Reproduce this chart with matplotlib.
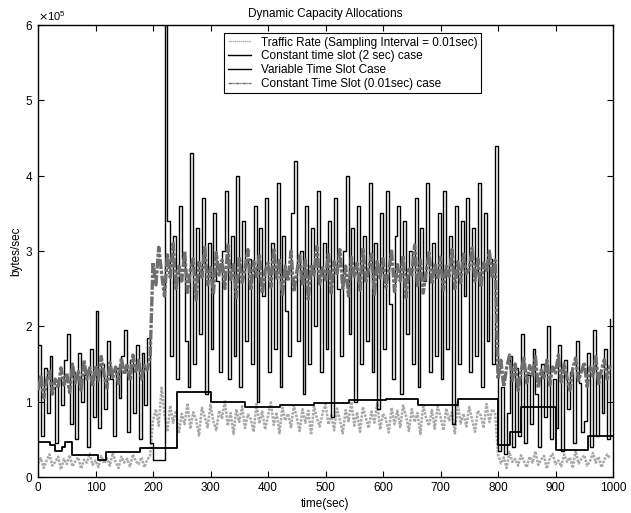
import numpy as np
import matplotlib
matplotlib.use("Agg")
import matplotlib.pyplot as plt
from matplotlib.ticker import ScalarFormatter

plt.rcParams['font.family'] = ['Liberation Sans', 'DejaVu Sans']

# sample times (sec), 5-second grid
time_sec = np.arange(0, 1000, 5)

# Traffic rate (x1e5 bytes/sec)
traffic = [
    0.18,0.25,0.12,0.22,0.30,0.15,0.20,0.27,0.10,0.24,0.17,0.29,0.14,0.21,0.26,0.11,0.23,0.19,0.31,0.16,
    0.22,0.13,0.28,0.18,0.25,0.15,0.32,0.20,0.12,0.27,0.19,0.24,0.14,0.30,0.21,0.17,0.26,0.13,0.23,0.28,
    0.75,0.90,0.68,1.20,0.82,0.60,0.95,0.72,0.88,0.58,0.84,0.70,0.98,0.64,0.86,0.76,0.55,0.92,0.80,0.66,
    0.96,0.74,0.62,0.88,0.78,1.02,0.68,0.85,0.57,0.90,0.73,0.94,0.65,0.83,0.77,0.60,0.97,0.71,0.87,0.63,
    0.81,0.99,0.69,0.86,0.58,0.92,0.75,0.84,0.66,0.95,0.79,0.61,0.90,0.72,0.88,0.56,0.94,0.78,0.67,0.85,
    0.97,0.70,0.82,0.62,0.91,0.76,0.58,0.89,0.74,1.00,0.68,0.86,0.60,0.93,0.79,0.65,0.87,0.72,0.98,0.63,
    0.84,0.77,0.59,0.92,0.70,0.88,0.66,0.95,0.81,0.61,0.90,0.73,0.85,0.57,0.96,0.78,0.68,0.89,0.64,0.94,
    0.80,0.62,0.91,0.75,0.86,0.58,0.99,0.71,0.84,0.67,0.93,0.76,0.60,0.88,0.82,0.65,0.97,0.73,0.90,0.85,
    0.30,0.18,0.26,0.12,0.33,0.20,0.24,0.15,0.29,0.21,0.13,0.27,0.19,0.34,0.16,0.23,0.28,0.11,0.25,0.31,
    0.17,0.22,0.14,0.30,0.20,0.26,0.12,0.35,0.18,0.24,0.29,0.15,0.21,0.32,0.19,0.27,0.13,0.23,0.30,0.25,
]

# Constant time slot (2 sec) case (x1e5 bytes/sec)
const_2s = [
    1.75,0.55,1.45,0.85,1.60,1.20,0.45,1.30,0.95,1.55,1.90,0.70,1.40,0.50,1.65,1.00,1.35,0.40,1.70,0.80,
    2.20,0.65,1.50,0.90,1.80,1.30,0.55,1.45,1.05,1.60,1.95,0.60,1.55,0.85,1.75,0.50,1.65,0.95,1.85,0.45,
    0.22,0.22,0.22,0.22,6.50,3.40,1.60,3.20,1.30,3.60,2.90,1.80,1.20,4.30,1.50,3.30,1.90,3.70,1.10,3.10,
    1.70,3.50,2.60,1.40,3.00,3.80,1.30,3.20,1.60,4.00,1.20,3.40,1.80,2.90,1.50,3.60,1.00,3.30,2.40,3.70,
    1.40,3.10,1.70,3.90,1.20,3.20,2.20,1.60,3.50,4.20,1.80,3.00,1.10,3.60,1.50,3.30,2.00,3.80,1.40,3.10,
    1.70,3.40,0.80,3.70,2.50,1.60,3.00,4.00,1.90,3.30,1.00,3.60,1.50,3.20,1.80,3.90,1.40,3.10,0.90,3.50,
    1.70,3.80,2.30,1.30,3.20,3.60,1.10,3.40,1.90,3.00,1.50,3.70,1.20,3.30,2.60,3.90,1.40,3.10,1.60,3.50,
    1.30,3.80,1.70,3.20,0.70,3.60,1.50,3.40,2.40,3.70,1.40,3.30,1.60,3.90,1.20,3.50,1.80,2.90,1.50,4.40,
    0.35,1.20,0.30,0.85,1.60,0.40,1.45,0.55,1.90,0.45,1.35,0.70,1.70,1.10,0.40,1.50,0.80,2.00,0.50,1.30,
    0.65,1.75,0.35,1.55,0.90,1.40,0.45,1.80,1.25,0.60,0.75,1.65,0.40,1.95,0.55,1.35,0.85,1.70,0.50,2.10,
]

# Variable time slot case: slot start times (sec) and allocations (x1e5 bytes/sec)
var_slot_t = [0, 20, 30, 41, 47, 59, 104, 119, 177, 200, 241, 300, 360, 420, 480, 540, 605, 661, 730, 800, 820, 840, 900, 957, 1000]
var_slot_v = [0.47, 0.42, 0.34, 0.40, 0.47, 0.29, 0.23, 0.33, 0.38, 0.38, 1.13, 1.00, 0.93, 0.96, 0.98, 1.02, 1.04, 0.96, 1.04, 0.42, 0.60, 0.93, 0.36, 0.55, 0.55]

# Constant time slot (0.01 sec) case (x1e5 bytes/sec)
const_001 = [
    1.15,1.35,1.05,1.28,1.42,1.10,1.30,1.18,1.45,1.22,1.38,1.12,1.50,1.25,1.40,1.15,1.55,1.30,1.45,1.20,
    1.48,1.28,1.60,1.35,1.18,1.52,1.32,1.46,1.24,1.58,1.36,1.50,1.28,1.62,1.40,1.55,1.30,1.48,1.42,1.58,
    2.85,2.55,3.05,2.70,2.40,2.95,2.65,3.10,2.50,2.80,2.60,3.00,2.45,2.75,2.90,2.35,2.85,2.65,3.05,2.55,
    2.78,2.42,2.98,2.68,2.88,2.50,3.08,2.62,2.82,2.38,2.92,2.58,2.76,3.02,2.48,2.86,2.66,2.96,2.44,2.74,
    2.84,2.52,3.04,2.64,2.90,2.40,2.80,2.60,3.00,2.46,2.72,2.94,2.54,2.88,2.36,2.82,2.68,3.06,2.56,2.78,
    2.62,2.98,2.44,2.86,2.70,3.02,2.50,2.80,2.40,2.92,2.66,2.84,2.48,3.04,2.58,2.76,2.96,2.42,2.86,2.64,
    2.90,2.52,2.74,3.00,2.46,2.82,2.60,2.94,2.38,2.78,2.68,3.08,2.54,2.88,2.44,2.72,2.98,2.56,2.84,2.62,
    2.92,2.48,2.80,2.66,3.02,2.50,2.86,2.58,2.96,2.70,2.76,3.04,2.60,2.90,2.52,2.84,2.74,3.00,2.64,2.88,
    1.30,1.55,1.20,1.45,1.62,1.28,1.50,1.15,1.40,1.58,1.25,1.48,1.35,1.60,1.18,1.42,1.30,1.55,1.22,1.46,
    1.38,1.62,1.26,1.50,1.32,1.15,1.44,1.58,1.28,1.40,1.52,1.20,1.46,1.34,1.60,1.24,1.42,1.56,1.30,1.48,
]

labels = ["Traffic Rate (Sampling Interval = 0.01sec)",
          "Constant time slot (2 sec) case",
          "Variable Time Slot Case",
          "Constant Time Slot (0.01sec) case"]

scale = 1e5
fig = plt.figure(figsize=(6.31, 5.13), dpi=100)
ax = fig.add_axes([38/631, 36/513, 575/631, 452/513])

h2, = ax.plot(time_sec, np.array(const_2s) * scale, color='black', lw=1.0,
              drawstyle='steps-post', zorder=2)
h4, = ax.plot(time_sec, np.array(const_001) * scale, color='#6e6e6e', lw=2.4,
              linestyle=(0, (3, 0.5, 1, 0.5)), zorder=3)
h1, = ax.plot(time_sec, np.array(traffic) * scale, color='#a8a8a8', lw=1.8,
              linestyle=(0, (1, 0.5)), zorder=1)
h3, = ax.plot(var_slot_t, np.array(var_slot_v) * scale, color='black', lw=1.3,
              drawstyle='steps-post', zorder=4)

ax.set_xlim(0, 1000)
ax.set_ylim(0, 6e5)
ax.set_xticks(np.arange(0, 1001, 100))
ax.set_yticks(np.arange(0, 6.01e5, 1e5))
fmt = ScalarFormatter(useMathText=True)
fmt.set_powerlimits((0, 0))
ax.yaxis.set_major_formatter(fmt)
ax.yaxis.get_offset_text().set_fontsize(8)
ax.tick_params(direction='in', top=True, right=True, labelsize=8.5, length=4, width=0.8)
for s in ax.spines.values():
    s.set_linewidth(1.0)

ax.set_title("Dynamic Capacity Allocations", fontsize=8.5, pad=6)
ax.set_xlabel("time(sec)", fontsize=8.5, labelpad=3)
ax.set_ylabel("bytes/sec", fontsize=8.5, labelpad=2)

leg = ax.legend([h1, h2, h3, h4], labels, loc='upper left',
                bbox_to_anchor=((224-38)/575, (477-33)/452), borderaxespad=0,
                fontsize=8.5, fancybox=False, framealpha=1, edgecolor='black',
                handlelength=2.0, labelspacing=0.15, borderpad=0.3)
leg.get_frame().set_linewidth(0.8)
for lh in leg.get_lines():
    lh.set_linewidth(1.0)

fig.savefig("out.png", dpi=100)
